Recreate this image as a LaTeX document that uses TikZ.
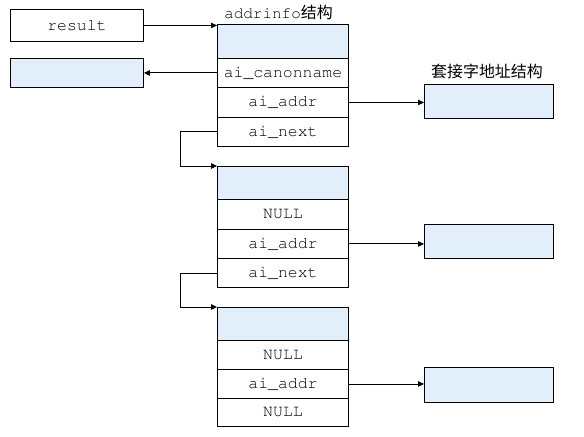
\documentclass[tikz,border=0pt]{standalone}
\usepackage[T1,TU]{fontenc}
\usepackage{fontspec}
\newfontfamily\cjk{Noto Sans CJK SC}
\newcommand{\cour}{\fontencoding{T1}\fontfamily{pcr}\selectfont}
\usetikzlibrary{arrows.meta}
\definecolor{lblue}{RGB}{226,239,250}
\tikzset{
  cell/.style={draw, line width=0.9bp, inner sep=0pt, anchor=north west, minimum width=131bp,
    font=\fontsize{16.5}{18}\selectfont\cour},
  bluecell/.style={cell, fill=lblue},
  arr/.style={line width=0.9bp, -{Triangle[length=6bp,width=5.5bp]}},
  lbl/.style={inner sep=0pt, font=\fontsize{16}{18}\selectfont}
}
\begin{document}
\begin{tikzpicture}[x=1bp,y=-1bp]
\useasboundingbox (0,0) rectangle (584,437);
% left boxes
\node[cell, minimum width=133bp, minimum height=32bp] (res) at (10,9) {result};
\node[bluecell, minimum width=133bp, minimum height=29bp] (canon) at (10,58) {};
% struct 1
\node[lbl] (t1) at (278.5,12) {{\cour addrinfo}{\cjk 结构}};
\node[bluecell, minimum height=34bp] (h1) at (217,24) {};
\node[cell, minimum height=29bp] (c1) at (217,58) {ai\_canonname};
\node[cell, minimum height=30bp] (a1) at (217,87) {ai\_addr};
\node[cell, minimum height=29bp] (n1) at (217,117) {ai\_next};
% struct 2
\node[bluecell, minimum height=33bp] (h2) at (217,166) {};
\node[cell, minimum height=30bp] (c2) at (217,199) {NULL};
\node[cell, minimum height=29bp] (a2) at (217,229) {ai\_addr};
\node[cell, minimum height=29bp] (n2) at (217,258) {ai\_next};
% struct 3
\node[bluecell, minimum height=33bp] (h3) at (217,307) {};
\node[cell, minimum height=29bp] (c3) at (217,340) {NULL};
\node[cell, minimum height=29bp] (a3) at (217,369) {ai\_addr};
\node[cell, minimum height=28bp] (n3) at (217,398) {NULL};
% socket address boxes
\node[lbl] (t2) at (487,71) {\cjk 套接字地址结构};
\node[bluecell, minimum width=129bp, minimum height=34bp] (s1) at (424,84) {};
\node[bluecell, minimum width=129bp, minimum height=34bp] (s2) at (424,224) {};
\node[bluecell, minimum width=129bp, minimum height=35bp] (s3) at (424,367) {};
% connectors
\draw[arr] (res.east) -- (res.east -| h1.west);
\draw[arr] (c1.west) -- (canon.east);
\draw[arr] (a1.east) -- (a1.east -| s1.west);
\draw[arr] (a2.east) -- (a2.east -| s2.west);
\draw[arr] (a3.east) -- (a3.east -| s3.west);
\draw[arr] (n1.west) -- ++(-37,0) |- (h2.north west);
\draw[arr] (n2.west) -- ++(-37,0) |- (h3.north west);
\end{tikzpicture}
\end{document}
